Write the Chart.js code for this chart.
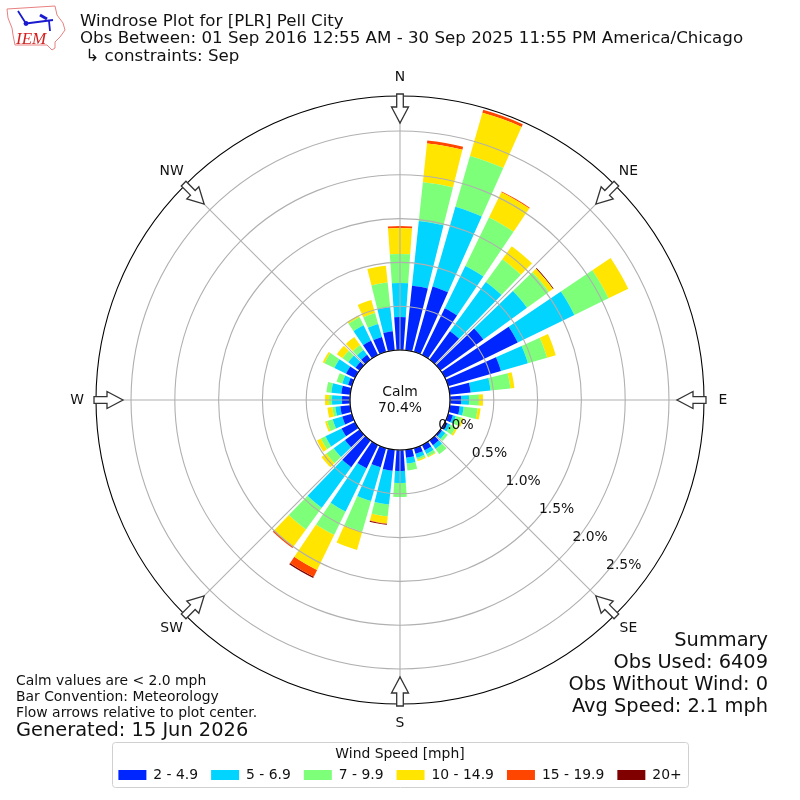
<!DOCTYPE html>
<html>
<head>
<meta charset="utf-8">
<title>Windrose Plot for [PLR] Pell City</title>
<script src="https://cdn.jsdelivr.net/npm/chart.js@4/dist/chart.umd.js"></script>
<style>
  html, body { margin: 0; padding: 0; background: #fff; }
  canvas { display: block; }
</style>
</head>
<body>
<canvas id="rose" width="800" height="800"></canvas>
<script>
const directions = [0, 10, 20, 30, 40, 50, 60, 70, 80, 90, 100, 110, 120, 130, 140, 150, 160, 170,
  180, 190, 200, 210, 220, 230, 240, 250, 260, 270, 280, 290, 300, 310, 320, 330, 340, 350];

const speedLabels = ['2 - 4.9', '5 - 6.9', '7 - 9.9', '10 - 14.9', '15 - 19.9', '20+'];
const speedColors = ['#0026ff', '#00d4ff', '#7dff7a', '#ffe500', '#ff4600', '#800000'];

const speed2to5 = [.377, .742, .776, .594, .400, .605, .925, .628, .240, .126, .114, .057, .034, .023, .068, .068, .068, .091,
  .240, .240, .228, .297, .377, .205, .171, .114, .114, .091, .103, .046, .114, .057, .068, .183, .177, .217];
const speed5to7 = [.388, .742, .947, .537, .696, .616, .719, .320, .228, .091, .046, .034, .034, .046, .051, .046, .046, .068,
  .137, .388, .400, .548, .571, .160, .205, .114, .057, .114, .114, .068, .148, .103, .068, .194, .154, .280];
const speed7to10 = [.331, .445, .605, .616, .320, .308, .434, .228, .228, .114, .160, .068, .068, .034, .074, .034, .023, .080,
  .160, .137, .365, .297, .308, .103, .057, .068, .034, .034, .057, .068, .126, .080, .068, .103, .131, .280];
const speed10to15 = [.297, .445, .514, .320, .183, .057, .251, .103, .046, .046, .034, .023, .023, 0, 0, .011, .017, 0,
  0, .080, .217, .445, .240, .068, .051, .023, .057, .046, 0, 0, .023, .080, .114, .023, .154, .194];
const speed15to20 = [.023, .034, .034, .011, 0, 0, 0, 0, 0, 0, 0, 0, 0, 0, 0, 0, 0, 0,
  0, .006, 0, .086, .023, 0, 0, 0, 0, 0, 0, 0, 0, 0, 0, 0, 0, 0];
const speed20up = [0, 0, 0, 0, 0, .011, 0, 0, 0, 0, 0, 0, 0, 0, 0, 0, 0, 0,
  0, .011, 0, .017, 0, 0, 0, 0, 0, 0, 0, 0, 0, 0, 0, 0, 0, 0];

const speedSeries = [speed2to5, speed5to7, speed7to10, speed10to15, speed15to20, speed20up];
const ringTicks = [0, 0.5, 1, 1.5, 2, 2.5];

const compassLabels = ['N', 'NE', 'E', 'SE', 'S', 'SW', 'W', 'NW'];
const titleLines = ['Windrose Plot for [PLR] Pell City',
  'Obs Between: 01 Sep 2016 12:55 AM - 30 Sep 2025 11:55 PM America/Chicago',
  ' \u21b3 constraints: Sep'];
const noteLines = ['Calm values are < 2.0 mph', 'Bar Convention: Meteorology', 'Flow arrows relative to plot center.'];
const summaryLines = ['Summary', 'Obs Used: 6409', 'Obs Without Wind: 0', 'Avg Speed: 2.1 mph'];

const FONT = '"DejaVu Sans"';
const BAR_ANGLE = 8;
const GAP_ANGLE = 2;

// polar area with a stacked base, each arc starts where the slower bin ended
class RoseController extends Chart.PolarAreaController {
  updateElement(element, index, properties, mode) {
    const base = this.getDataset().base[index];
    properties.innerRadius = this._cachedMeta.rScale.getDistanceFromCenterForValue(base);
    super.updateElement(element, index, properties, mode);
  }
}
RoseController.id = 'rose';
Chart.register(RoseController);

// polar area has no gaps of its own, so every direction gets a bar slot and a thin empty slot
const slotLabels = [];
directions.forEach((d) => slotLabels.push(d + '', d + ' gap'));

const running = directions.map(() => 0);
const layers = speedSeries.map((series, s) => {
  const data = [];
  const base = [];
  series.forEach((v, i) => {
    base.push(running[i], 0);
    running[i] += v;
    data.push(running[i], 0);
  });
  return {
    label: speedLabels[s],
    data: data,
    base: base,
    backgroundColor: speedColors[s],
    borderWidth: 0,
    angle: (ctx) => (ctx.index % 2 ? GAP_ANGLE : BAR_ANGLE),
  };
});

function text(ctx, str, x, y, size, align) {
  ctx.font = size + 'px ' + FONT;
  ctx.textAlign = align || 'left';
  ctx.textBaseline = 'middle';
  ctx.fillStyle = '#111';
  ctx.fillText(str, x, y);
}

function drawArrow(ctx, cx, cy, radius, angle) {
  ctx.save();
  ctx.translate(cx, cy);
  ctx.rotate(angle);
  ctx.beginPath();
  ctx.moveTo(-3.3, -radius - 2);
  ctx.lineTo(3.3, -radius - 2);
  ctx.lineTo(3.3, -radius + 11);
  ctx.lineTo(8.5, -radius + 11);
  ctx.lineTo(0, -radius + 27);
  ctx.lineTo(-8.5, -radius + 11);
  ctx.lineTo(-3.3, -radius + 11);
  ctx.closePath();
  ctx.fillStyle = '#fff';
  ctx.fill();
  ctx.strokeStyle = '#333';
  ctx.lineWidth = 1.3;
  ctx.stroke();
  ctx.restore();
}

function drawLogo(ctx) {
  const outline = [[7, 9], [55, 6], [57, 15], [63, 23], [65, 30], [60, 37], [55, 42], [55, 48], [52, 50], [47, 45], [15, 45], [13, 35], [12, 28], [8, 18]];
  ctx.beginPath();
  outline.forEach((p, i) => (i ? ctx.lineTo(p[0], p[1]) : ctx.moveTo(p[0], p[1])));
  ctx.closePath();
  ctx.strokeStyle = '#e88080';
  ctx.lineWidth = 1;
  ctx.stroke();
  ctx.strokeStyle = '#1a1ad0';
  ctx.lineWidth = 1.8;
  ctx.beginPath();
  ctx.moveTo(26, 23.5); ctx.lineTo(53, 20);
  ctx.moveTo(18, 11); ctx.lineTo(25, 22);
  ctx.moveTo(49, 21); ctx.lineTo(50, 31);
  ctx.stroke();
  ctx.lineWidth = 3;
  ctx.beginPath();
  ctx.moveTo(40, 15); ctx.lineTo(47, 19);
  ctx.stroke();
  ctx.fillStyle = '#1a1ad0';
  ctx.beginPath();
  ctx.arc(26, 23.5, 2.4, 0, Math.PI * 2);
  ctx.fill();
  ctx.font = 'italic 17px "Liberation Serif"';
  ctx.textAlign = 'left';
  ctx.textBaseline = 'alphabetic';
  ctx.fillStyle = '#d42020';
  ctx.fillText('IEM', 16, 44);
}

const rosePainter = {
  id: 'rosePainter',
  afterDraw(chart) {
    const ctx = chart.ctx;
    const r = chart.scales.r;
    const cx = r.xCenter;
    const cy = r.yCenter;
    const hole = r.getDistanceFromCenterForValue(0);
    const outer = r.drawingArea;
    ctx.save();

    // spokes every 45 degrees
    ctx.strokeStyle = '#b0b0b0';
    ctx.lineWidth = 1.1;
    compassLabels.forEach((c, i) => {
      const a = i * Math.PI / 4;
      ctx.beginPath();
      ctx.moveTo(cx + hole * Math.sin(a), cy - hole * Math.cos(a));
      ctx.lineTo(cx + outer * Math.sin(a), cy - outer * Math.cos(a));
      ctx.stroke();
    });

    ctx.strokeStyle = '#000';
    ctx.lineWidth = 1.1;
    [hole, outer].forEach((rad) => {
      ctx.beginPath();
      ctx.arc(cx, cy, rad, 0, Math.PI * 2);
      ctx.stroke();
    });

    compassLabels.forEach((c, i) => {
      const a = i * Math.PI / 4;
      drawArrow(ctx, cx, cy, outer, a);
      text(ctx, c, cx + 323 * Math.sin(a), cy - 323 * Math.cos(a), 13.9, 'center');
    });

    // ring labels run along the 130 degree line
    const la = 130 * Math.PI / 180;
    ringTicks.forEach((t) => {
      const d = r.getDistanceFromCenterForValue(t);
      text(ctx, t.toFixed(1) + '%', cx + d * Math.sin(la), cy - d * Math.cos(la) - 7, 13.9, 'left');
    });

    text(ctx, 'Calm', cx, cy - 8, 13.9, 'center');
    text(ctx, '70.4%', cx, cy + 8, 13.9, 'center');

    titleLines.forEach((t, i) => text(ctx, t, 80, 21.5 + i * 17.5, 16.67));
    noteLines.forEach((t, i) => text(ctx, t, 16, 681 + i * 16, 13.9));
    text(ctx, 'Generated: 15 Jun 2026', 16, 731, 19.4);
    summaryLines.forEach((t, i) => text(ctx, t, 768, 641 + i * 22, 19.4, 'right'));

    ctx.beginPath();
    ctx.roundRect(112.5, 742.5, 576, 45, 3);
    ctx.strokeStyle = '#d0d0d0';
    ctx.lineWidth = 1;
    ctx.stroke();

    drawLogo(ctx);
    ctx.restore();
  },
};

new Chart(document.getElementById('rose'), {
  type: 'rose',
  data: { labels: slotLabels, datasets: layers },
  plugins: [rosePainter],
  options: {
    responsive: false,
    animation: false,
    layout: { padding: { top: 96, bottom: 8 } },
    scales: {
      r: {
        type: 'radialLinear',
        min: -0.571,
        max: 2.9,
        startAngle: -BAR_ANGLE / 2,
        beginAtZero: false,
        afterBuildTicks: (scale) => {
          scale.ticks = ringTicks.map((v) => ({ value: v }));
        },
        ticks: { display: false },
        pointLabels: { display: false },
        angleLines: { display: false },
        grid: { circular: true, color: '#b0b0b0', lineWidth: 1.1, z: 1 },
      },
    },
    plugins: {
      tooltip: { enabled: false },
      title: { display: false },
      legend: {
        position: 'bottom',
        title: {
          display: true,
          text: 'Wind Speed [mph]',
          color: '#111',
          font: { family: FONT, size: 13.9 },
          padding: { top: 43, bottom: -9 },
        },
        labels: {
          boxWidth: 28,
          boxHeight: 10,
          padding: 13,
          color: '#111',
          font: { family: FONT, size: 13.9 },
          generateLabels: () => speedLabels.map((t, i) => ({
            text: t,
            fillStyle: speedColors[i],
            strokeStyle: speedColors[i],
            lineWidth: 0,
            hidden: false,
            index: i,
          })),
        },
      },
    },
  },
});
</script>
</body>
</html>
